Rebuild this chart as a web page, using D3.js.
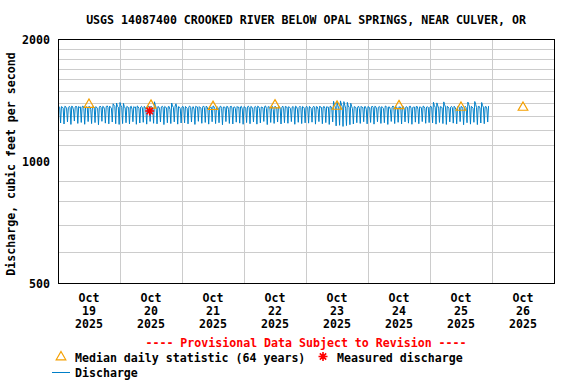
<!DOCTYPE html>
<html lang="en">
<head>
<meta charset="UTF-8">
<title>USGS 14087400 Crooked River below Opal Springs</title>
<script src="https://d3js.org/d3.v7.min.js"></script>
<style>
    body { margin: 0; background: #fff; }
    svg text {
        font-family: "DejaVu Sans Mono", "Liberation Mono", monospace;
        font-weight: bold;
        font-size: 11.6px;
    }
</style>
</head>
<body>
<div id="chart"></div>
<script>
// 20-minute discharge readings, one array per day (cfs)
const oct19 = [1368,1372,1361,1248, 1370,1366,1358,1241, 1373,1369,1352,1256, 1362,1371,1365,1238,
    1375,1368,1344,1262, 1366,1374,1360,1245, 1371,1363,1368,1252, 1369,1375,1355,1239,
    1364,1370,1362,1258, 1373,1367,1349,1244, 1368,1372,1366,1251, 1370,1361,1357,1236,
    1366,1374,1363,1260, 1372,1368,1350,1247, 1369,1376,1364,1242, 1374,1365,1358,1255,
    1392,1381,1370,1243, 1398,1372,1366,1238];
const oct20 = [1402,1378,1365,1244, 1395,1370,1359,1250, 1372,1366,1362,1241, 1368,1373,1350,1257,
    1370,1364,1367,1239, 1375,1369,1355,1248, 1366,1372,1360,1253, 1371,1367,1346,1240,
    1369,1374,1363,1259, 1373,1365,1357,1246, 1408,1380,1362,1242, 1370,1368,1352,1255,
    1367,1373,1366,1237, 1372,1366,1359,1250, 1369,1371,1348,1244, 1398,1375,1364,1256,
    1374,1392,1360,1240, 1370,1366,1355,1248];
const oct21 = [1367,1372,1360,1249, 1371,1365,1356,1242, 1369,1374,1363,1255, 1364,1370,1351,1238,
    1373,1368,1366,1260, 1370,1363,1358,1246, 1366,1375,1362,1252, 1372,1369,1347,1240,
    1368,1364,1365,1257, 1375,1371,1354,1244, 1363,1367,1361,1250, 1370,1373,1356,1236,
    1367,1366,1364,1258, 1372,1370,1349,1245, 1369,1374,1360,1241, 1365,1368,1357,1254,
    1371,1363,1366,1247, 1368,1372,1352,1239];
const oct22 = [1370,1366,1358,1251, 1368,1373,1363,1243, 1372,1367,1350,1256, 1365,1371,1366,1240,
    1374,1369,1355,1249, 1367,1364,1361,1259, 1371,1375,1357,1237, 1369,1368,1364,1252,
    1366,1372,1348,1245, 1373,1365,1362,1255, 1368,1370,1359,1241, 1364,1374,1353,1250,
    1372,1367,1365,1246, 1370,1363,1356,1258, 1367,1371,1361,1239, 1374,1368,1351,1253,
    1365,1373,1363,1244, 1371,1366,1358,1249];
const oct23 = [1368,1371,1362,1247, 1372,1365,1355,1254, 1366,1373,1360,1240, 1370,1368,1349,1258,
    1374,1364,1363,1243, 1367,1372,1357,1251, 1369,1366,1365,1238, 1373,1370,1352,1256,
    1412,1385,1368,1228, 1406,1378,1360,1232, 1415,1390,1372,1224, 1409,1381,1358,1230,
    1403,1376,1365,1236, 1396,1372,1354,1241, 1370,1367,1361,1250, 1366,1373,1356,1245,
    1372,1364,1363,1257, 1369,1370,1350,1242];
const oct24 = [1371,1366,1359,1252, 1367,1374,1364,1240, 1373,1369,1351,1257, 1365,1370,1366,1245,
    1370,1363,1356,1250, 1374,1372,1362,1238, 1368,1367,1348,1259, 1366,1375,1363,1244,
    1372,1368,1357,1253, 1369,1364,1365,1241, 1373,1371,1353,1256, 1367,1369,1360,1247,
    1371,1374,1358,1239, 1364,1366,1366,1254, 1370,1372,1350,1243, 1368,1365,1362,1258,
    1374,1370,1355,1246, 1366,1368,1364,1251];
const oct25 = [1368,1373,1360,1249, 1404,1380,1365,1240, 1399,1376,1358,1252, 1370,1366,1363,1244,
    1407,1384,1366,1238, 1372,1367,1354,1256, 1366,1371,1362,1247, 1373,1365,1350,1242,
    1369,1374,1365,1258, 1371,1368,1357,1236, 1365,1372,1361,1250, 1405,1386,1368,1240,
    1372,1366,1356,1253, 1410,1388,1364,1237, 1370,1373,1359,1248, 1402,1379,1366,1243,
    1368,1371,1352,1255, 1374];
const dischargeDays = [oct19, oct20, oct21, oct22, oct23, oct24, oct25];

// median daily statistic (64 years), Oct 19 .. Oct 26
const medianDays = [19, 20, 21, 22, 23, 24, 25, 26];
const medianValues = [1386, 1379, 1369, 1381, 1371, 1375, 1363, 1363];

// field measurement
const measuredTime = [20, 11.5];   // day, hour
const measuredValue = [1336];

const yTickValues = [500, 1000, 2000];
const yGridValues = [600, 700, 800, 900, 1100, 1200, 1300, 1400, 1500, 1600, 1700, 1800, 1900];
const xLabelDays = [19, 20, 21, 22, 23, 24, 25, 26];

const width = 576, height = 384;
const margin = { left: 58, right: 22, top: 40, bottom: 100 };

const day = d => new Date(Date.UTC(2025, 9, d));

const x = d3.scaleUtc()
    .domain([day(19), day(27)])
    .range([margin.left, width - margin.right]);

const y = d3.scaleLog()
    .domain([500, 2000])
    .range([height - margin.bottom, margin.top]);

// flatten readings into time/value points
const discharge = [];
dischargeDays.forEach((vals, i) => {
    vals.forEach((v, j) => {
        discharge.push({ t: new Date(day(19 + i).getTime() + j * 20 * 60000), v: v });
    });
});

const svg = d3.select("#chart")
    .append("svg")
    .attr("width", width)
    .attr("height", height);

const crisp = v => Math.round(v) + 0.5;

// horizontal grid
svg.append("g")
    .selectAll("line")
    .data(yGridValues)
    .join("line")
    .attr("x1", margin.left)
    .attr("x2", width - margin.right)
    .attr("y1", d => crisp(y(d)))
    .attr("y2", d => crisp(y(d)))
    .attr("stroke", "#cccccc");

// vertical grid at midnight
svg.append("g")
    .selectAll("line")
    .data(d3.range(20, 27))
    .join("line")
    .attr("x1", d => crisp(x(day(d))))
    .attr("x2", d => crisp(x(day(d))))
    .attr("y1", margin.top)
    .attr("y2", height - margin.bottom)
    .attr("stroke", "#cccccc");

// discharge line
svg.append("path")
    .datum(discharge)
    .attr("fill", "none")
    .attr("stroke", "#007fc8")
    .attr("stroke-width", 1)
    .attr("d", d3.line().x(d => x(d.t)).y(d => y(d.v)));

// median triangles
const tri = d3.symbol().type(d3.symbolTriangle).size(40);
svg.append("g")
    .selectAll("path")
    .data(medianDays)
    .join("path")
    .attr("transform", (d, i) => `translate(${x(new Date(day(d).getTime() + 12 * 3600000))},${y(medianValues[i])})`)
    .attr("d", tri)
    .attr("fill", "none")
    .attr("stroke", "#f5a000")
    .attr("stroke-width", 1.2);

// asterisk marker path
function starPath(r) {
    const k = r * Math.SQRT1_2;
    return `M${-r},0L${r},0M0,${-r}L0,${r}M${-k},${-k}L${k},${k}M${-k},${k}L${k},${-k}`;
}

svg.append("path")
    .attr("transform", `translate(${x(new Date(day(measuredTime[0]).getTime() + measuredTime[1] * 3600000))},${y(measuredValue[0])})`)
    .attr("d", starPath(4.5))
    .attr("stroke", "#ff0000")
    .attr("stroke-width", 1.6);

// frame
svg.append("rect")
    .attr("x", margin.left + 0.5)
    .attr("y", margin.top - 0.5)
    .attr("width", width - margin.right - margin.left)
    .attr("height", height - margin.bottom - margin.top)
    .attr("fill", "none")
    .attr("stroke", "#000");

// title
svg.append("text")
    .attr("x", 306)
    .attr("y", 24)
    .attr("text-anchor", "middle")
    .text("USGS 14087400 CROOKED RIVER BELOW OPAL SPRINGS, NEAR CULVER, OR");

// y tick labels
svg.append("g")
    .selectAll("text")
    .data(yTickValues)
    .join("text")
    .attr("x", 50)
    .attr("y", d => y(d) + 4)
    .attr("text-anchor", "end")
    .text(d => d);

// y axis title
svg.append("text")
    .attr("transform", "translate(15,164) rotate(-90)")
    .attr("text-anchor", "middle")
    .text("Discharge, cubic feet per second");

// x labels at noon
const xl = svg.append("g")
    .selectAll("text")
    .data(xLabelDays)
    .join("text")
    .attr("text-anchor", "middle")
    .attr("transform", d => `translate(${x(new Date(day(d).getTime() + 12 * 3600000))},0)`);
xl.selectAll("tspan")
    .data(d => ["Oct", d, "2025"])
    .join("tspan")
    .attr("x", 0)
    .attr("y", (d, i) => 302 + i * 13)
    .text(d => d);

// provisional note
svg.append("text")
    .attr("x", 306)
    .attr("y", 346.5)
    .attr("text-anchor", "middle")
    .attr("fill", "#ff0000")
    .text("---- Provisional Data Subject to Revision ----");

// legend
svg.append("path")
    .attr("transform", "translate(61,357)")
    .attr("d", tri)
    .attr("fill", "none")
    .attr("stroke", "#f5a000")
    .attr("stroke-width", 1.2);
svg.append("text").attr("x", 75).attr("y", 361.5).text("Median daily statistic (64 years)");

svg.append("path")
    .attr("transform", "translate(323,356.5)")
    .attr("d", starPath(4.5))
    .attr("stroke", "#ff0000")
    .attr("stroke-width", 1.6);
svg.append("text").attr("x", 337).attr("y", 361.5).text("Measured discharge");

svg.append("line")
    .attr("x1", 52).attr("x2", 70)
    .attr("y1", 372.5).attr("y2", 372.5)
    .attr("stroke", "#007fc8");
svg.append("text").attr("x", 75).attr("y", 377).text("Discharge");
</script>
</body>
</html>
